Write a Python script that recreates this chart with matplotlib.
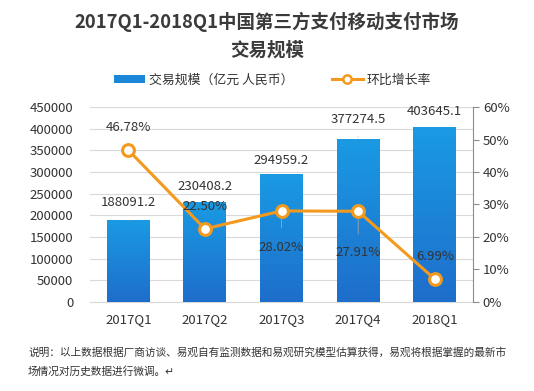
import numpy as np
import matplotlib
matplotlib.use("Agg")
import matplotlib.pyplot as plt
from matplotlib.colors import LinearSegmentedColormap
from matplotlib.lines import Line2D
from matplotlib.patches import Patch

plt.rcParams['font.family'] = ['Noto Sans CJK SC', 'DejaVu Sans']

# data
quarters = ["2017Q1", "2017Q2", "2017Q3", "2017Q4", "2018Q1"]
volume = [188091.2, 230408.2, 294959.2, 377274.5, 403645.1]   # 亿元
growth = [46.78, 22.50, 28.02, 27.91, 6.99]                   # %

# label offsets (points) -- tweaked by eye
vol_offsets = [13, 11, 10, 14, 11.5]
vol_leader = [True, False, False, True, False]
gr_offsets = [16.5, 16, -26, -30, 16]
gr_leader = [False, False, True, True, False]

text_col = "#333333"
orange = "#f39a1e"

fig = plt.figure(figsize=(5.34, 3.91), dpi=100)
ax = fig.add_axes([0.1685, 0.228, 0.7175, 0.498])
ax2 = ax.twinx()

x = np.arange(len(quarters))
bars = ax.bar(x, volume, width=0.56, color="#1a87d8", zorder=2)

# vertical gradient inside each bar
cmap = LinearSegmentedColormap.from_list("bl", ["#1e6ecb", "#1a9ae3"])
grad = np.linspace(0, 1, 100).reshape(-1, 1)
for b in bars:
    im = ax.imshow(grad, cmap=cmap, origin="lower", aspect="auto", zorder=3,
                   extent=[b.get_x(), b.get_x() + b.get_width(), 0, b.get_height()])
    im.set_clip_path(b)

ax.set_xlim(-0.5, len(quarters) - 0.5)
ax.set_ylim(0, 450000)
ax.set_yticks(np.arange(0, 450001, 50000))
ax.set_xticks(x)
ax.set_xticklabels(quarters)
ax.grid(axis="y", color="#d9d9d9", linewidth=0.8, zorder=0)
ax.set_axisbelow(True)
ax.tick_params(axis="both", length=0, labelsize=9.5, colors=text_col, pad=8)
ax.tick_params(axis="y", pad=12)
for s in ["top", "left", "right"]:
    ax.spines[s].set_visible(False)
ax.spines["bottom"].set_color("#d9d9d9")

for i, v in enumerate(volume):
    props = dict(arrowstyle="-", color="#a6a6a6", lw=0.6, shrinkA=6, shrinkB=1) if vol_leader[i] else None
    ax.annotate(f"{v:.1f}", (x[i], v), xytext=(0, vol_offsets[i]), textcoords="offset points",
                ha="center", va="center", fontsize=9.5, color=text_col, zorder=5, arrowprops=props)

# growth line
gr = np.array(growth) / 100
ax2.plot(x, gr, color=orange, lw=2.2, marker="o", markersize=8.5, markerfacecolor="white",
         markeredgecolor=orange, markeredgewidth=2.2, zorder=4)
ax2.set_ylim(0, 0.6)
ax2.set_yticks(np.arange(0, 0.61, 0.1))
ax2.set_yticklabels([f"{int(round(t * 100))}%" for t in np.arange(0, 0.61, 0.1)])
ax2.tick_params(axis="y", length=4, direction="out", labelsize=9.5, pad=3,
                colors="#8c8c8c", labelcolor=text_col)
for s in ["top", "left", "bottom"]:
    ax2.spines[s].set_visible(False)
ax2.spines["right"].set_color("#8c8c8c")

for i, g in enumerate(growth):
    props = dict(arrowstyle="-", color="#a6a6a6", lw=0.6, shrinkA=7, shrinkB=6) if gr_leader[i] else None
    ax2.annotate(f"{g:.2f}%", (x[i], g / 100), xytext=(0, gr_offsets[i]), textcoords="offset points",
                 ha="center", va="center", fontsize=9.5, color=text_col, zorder=6, arrowprops=props)

# titles
fig.text(0.5, 1 - 22 / 391, "2017Q1-2018Q1中国第三方支付移动支付市场", ha="center", va="center",
         fontsize=13.3, fontweight="bold", color="#3a3a3a")
fig.text(0.5, 1 - 50 / 391, "交易规模", ha="center", va="center",
         fontsize=13.3, fontweight="bold", color="#3a3a3a")

handles = [Patch(facecolor="#1a87d8", edgecolor="none"),
           Line2D([0], [0], color=orange, lw=2.2, marker="o", markersize=6,
                  markerfacecolor="white", markeredgecolor=orange, markeredgewidth=1.8)]
fig.legend(handles, ["交易规模（亿元 人民币）", "环比增长率"], loc="center",
           bbox_to_anchor=(0.51, 1 - 80 / 391), ncol=2, frameon=False, fontsize=9.3,
           handlelength=2.4, handleheight=0.5, columnspacing=3.0, handletextpad=0.3,
           labelcolor=text_col)

# footnote
fig.text(28 / 534, 1 - 352 / 391,
         "说明：以上数据根据厂商访谈、易观自有监测数据和易观研究模型估算获得，易观将根据掌握的最新市",
         ha="left", va="center", fontsize=7.7, color=text_col)
fig.text(28 / 534, 1 - 371 / 391, "场情况对历史数据进行微调。↵",
         ha="left", va="center", fontsize=7.7, color=text_col)

fig.savefig("out.png", dpi=100)
